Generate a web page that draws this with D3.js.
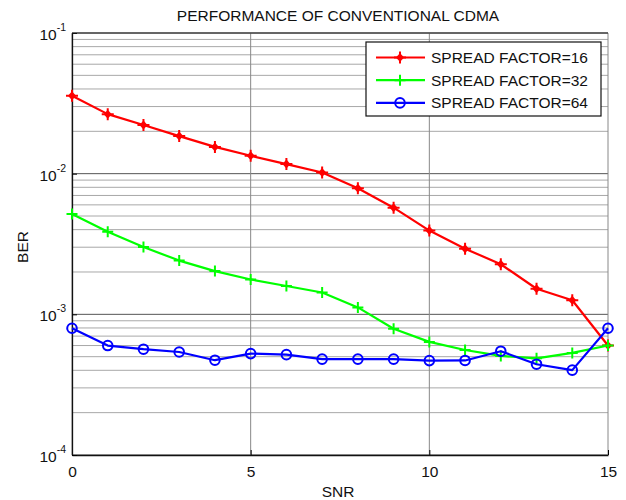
<!DOCTYPE html>
<html>
<head>
<meta charset="utf-8">
<script src="https://cdn.jsdelivr.net/npm/d3@7"></script>
<style>
	body { margin: 0; background: #fff; }
	svg { display: block; }
	text { font-family: "Liberation Sans", Arial, sans-serif; fill: #111; }
</style>
</head>
<body>
<svg id="chart" width="626" height="500"></svg>
<script>
// SNR values along the x axis
const snr = [0, 1, 2, 3, 4, 5, 6, 7, 8, 9, 10, 11, 12, 13, 14, 15];

// BER per spread factor
const sf16 = [0.0358, 0.0265, 0.0222, 0.0185, 0.0155, 0.0134, 0.0117, 0.0102,
	0.00787, 0.00573, 0.00394, 0.00293, 0.00227, 0.00152, 0.00126, 0.00060];
const sf32 = [0.00517, 0.00387, 0.00301, 0.00241, 0.00203, 0.00177, 0.00159, 0.00143,
	0.00112, 0.00079, 0.000637, 0.000558, 0.000506, 0.000487, 0.000532, 0.00060];
const sf64 = [0.000796, 0.00060, 0.000565, 0.00054, 0.000472, 0.000526, 0.000517, 0.00048,
	0.00048, 0.00048, 0.000469, 0.00047, 0.000547, 0.000442, 0.000401, 0.000796];

const seriesNames = ['SPREAD FACTOR=16', 'SPREAD FACTOR=32', 'SPREAD FACTOR=64'];
const xTicks = [0, 5, 10, 15];
const yExponents = [-1, -2, -3, -4];

const series = [
	{ name: seriesNames[0], values: sf16, color: '#ff0000', marker: 'star' },
	{ name: seriesNames[1], values: sf32, color: '#00ff00', marker: 'plus' },
	{ name: seriesNames[2], values: sf64, color: '#0000ff', marker: 'circle' },
];

const svg = d3.select('#chart');
const margin = { left: 72, right: 18, top: 33, bottom: 45 };
const width = 626, height = 500;

const x = d3.scaleLinear().domain([0, 15]).range([margin.left, width - margin.right]);
const y = d3.scaleLog().domain([1e-4, 1e-1]).range([height - margin.bottom, margin.top]);

// GRID
const minor = [];
yExponents.slice(0, 3).forEach(e => {
	for (let k = 2; k <= 9; k++) minor.push(k * Math.pow(10, e - 1));
});
svg.append('g').selectAll('line').data(minor).join('line')
	.attr('x1', x(0)).attr('x2', x(15))
	.attr('y1', d => y(d)).attr('y2', d => y(d))
	.style('stroke', '#a8a8a8').style('stroke-width', 1);
svg.append('g').selectAll('line').data(yExponents.map(e => Math.pow(10, e))).join('line')
	.attr('x1', x(0)).attr('x2', x(15))
	.attr('y1', d => y(d)).attr('y2', d => y(d))
	.style('stroke', '#555').style('stroke-width', 1);
svg.append('g').selectAll('line').data(xTicks).join('line')
	.attr('x1', d => x(d)).attr('x2', d => x(d))
	.attr('y1', y(1e-4)).attr('y2', y(1e-1))
	.style('stroke', '#888').style('stroke-width', 1);

// AXES
const xAxis = svg.append('g')
	.attr('transform', `translate(0,${y(1e-4)})`)
	.call(d3.axisBottom(x).tickValues(xTicks).tickSizeInner(-5).tickSizeOuter(0).tickPadding(11));
xAxis.select('.domain').style('stroke', '#111').style('stroke-width', 1.3);
xAxis.selectAll('text').style('font-size', '15.5px').style('font-family', '"Liberation Sans", Arial, sans-serif').attr('fill', '#111');

const yAxis = svg.append('g')
	.attr('transform', `translate(${x(0)},0)`)
	.call(d3.axisLeft(y).tickValues(yExponents.map(e => Math.pow(10, e))).tickSizeInner(-5).tickSizeOuter(0).tickFormat(''));
yAxis.select('.domain').style('stroke', '#111').style('stroke-width', 1.3);

const yLabels = svg.append('g').selectAll('text').data(yExponents).join('text')
	.attr('x', x(0) - 6)
	.attr('y', d => y(Math.pow(10, d)) + 7)
	.attr('text-anchor', 'end')
	.style('font-size', '15.5px');
yLabels.append('tspan').text('10');
yLabels.append('tspan').attr('dy', -9).style('font-size', '10.5px').text(d => d);

// top border
svg.append('line')
	.attr('x1', x(0)).attr('x2', x(15)).attr('y1', y(1e-1)).attr('y2', y(1e-1))
	.style('stroke', '#222').style('stroke-width', 1);

// TITLE AND LABELS
svg.append('text').attr('x', 338).attr('y', 21).attr('text-anchor', 'middle')
	.style('font-size', '15.5px').text('PERFORMANCE OF CONVENTIONAL CDMA');
svg.append('text').attr('x', 338).attr('y', 497).attr('text-anchor', 'middle')
	.style('font-size', '15.5px').text('SNR');
svg.append('text').attr('transform', `translate(28,247)rotate(-90)`).attr('text-anchor', 'middle')
	.style('font-size', '15.5px').text('BER');

// MARKERS
function drawMarker (g, type, color) {
	if (type === 'star') {
		g.append('path').attr('d', 'M0,-4.5L4,0L0,4.5L-4,0Z').style('fill', color);
		g.append('path').attr('d', 'M-6,0H6M0,-6V6').style('stroke', color).style('stroke-width', 2);
	} else if (type === 'plus') {
		g.append('path').attr('d', 'M-5.5,0H5.5M0,-5.5V5.5').style('stroke', color).style('stroke-width', 2);
	} else {
		g.append('circle').attr('r', 4.8).style('fill', 'none').style('stroke', color).style('stroke-width', 2);
	}
}

const line = d3.line().x((d, i) => x(snr[i])).y(d => y(d));

series.forEach(s => {
	svg.append('path').datum(s.values)
		.attr('d', line)
		.style('fill', 'none').style('stroke', s.color).style('stroke-width', 2.2)
		.style('stroke-linejoin', 'round');
	svg.append('g').selectAll('g').data(s.values).join('g')
		.attr('transform', (d, i) => `translate(${x(snr[i])},${y(d)})`)
		.each(function () { drawMarker(d3.select(this), s.marker, s.color); });
});

// LEGEND
const legend = svg.append('g').attr('transform', 'translate(366,42)');
legend.append('rect').attr('width', 235).attr('height', 74)
	.style('fill', '#fff').style('stroke', '#111').style('stroke-width', 1.2);
const rows = legend.selectAll('g.row').data(series).join('g')
	.attr('class', 'row')
	.attr('transform', (d, i) => `translate(0,${15.5 + i * 22.7})`);
rows.append('line').attr('x1', 10).attr('x2', 59)
	.style('stroke', d => d.color).style('stroke-width', 2.2);
rows.append('g').attr('transform', 'translate(34,0)')
	.each(function (d) { drawMarker(d3.select(this), d.marker, d.color); });
rows.append('text').attr('x', 65).attr('y', 5.5)
	.style('font-size', '15.5px').text(d => d.name);
</script>
</body>
</html>
